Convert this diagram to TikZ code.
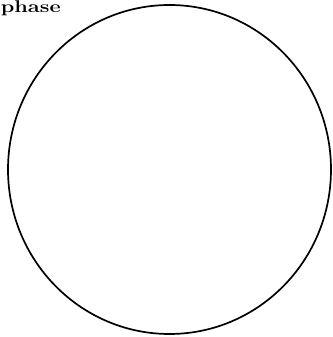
\documentclass[tikz,border=0pt]{standalone}
\begin{document}
\begin{tikzpicture}[x=1pt,y=1pt]
\tikzset{label text/.style={font=\bfseries\fontsize{17}{17}\selectfont, inner sep=0pt, xscale=1.28, transform shape}}
\useasboundingbox (0,0) rectangle (332,337);
\node[label text, anchor=base west] (phase) at (0.5,324) {phase};
\draw[line width=1.7pt] (169.5,167.5) ellipse [x radius=161.5, y radius=164.5];
\end{tikzpicture}
\end{document}
